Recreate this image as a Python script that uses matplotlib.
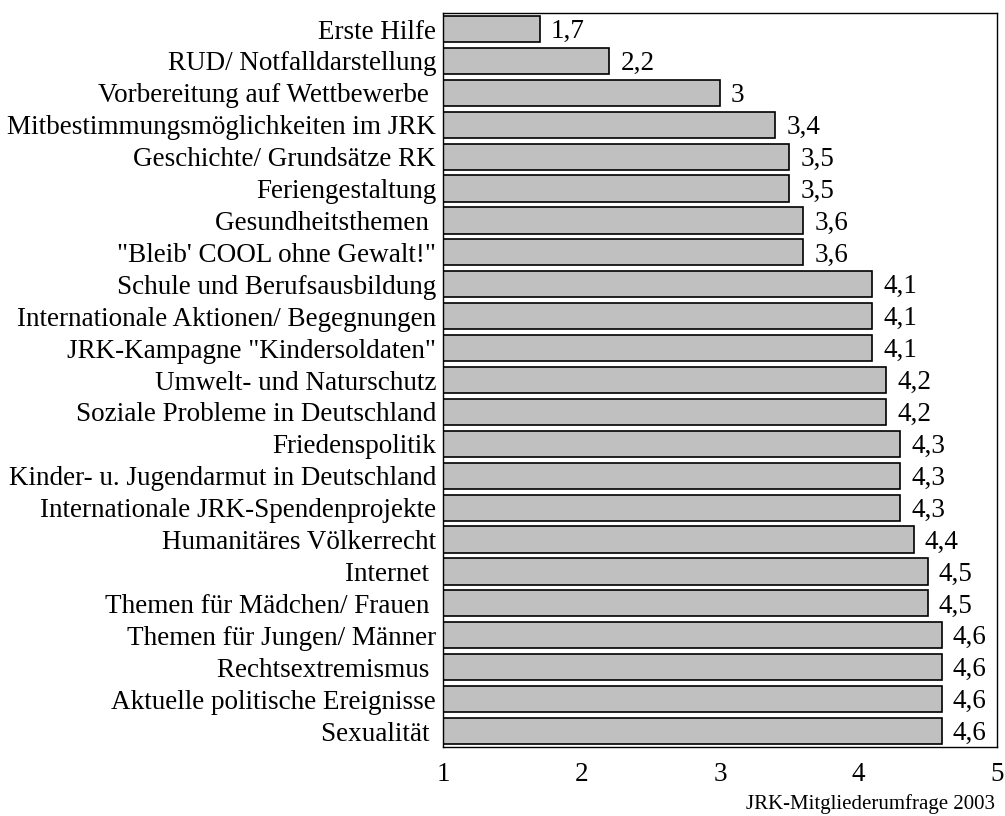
import matplotlib.pyplot as plt

plt.rcParams['font.family'] = ['Liberation Serif', 'DejaVu Serif']

themen = ["Erste Hilfe", "RUD/ Notfalldarstellung", "Vorbereitung auf Wettbewerbe ",
          "Mitbestimmungsmöglichkeiten im JRK", "Geschichte/ Grundsätze RK",
          "Feriengestaltung", "Gesundheitsthemen ", "\"Bleib' COOL ohne Gewalt!\"",
          "Schule und Berufsausbildung", "Internationale Aktionen/ Begegnungen",
          "JRK-Kampagne \"Kindersoldaten\"", "Umwelt- und Naturschutz",
          "Soziale Probleme in Deutschland", "Friedenspolitik",
          "Kinder- u. Jugendarmut in Deutschland", "Internationale JRK-Spendenprojekte",
          "Humanitäres Völkerrecht", "Internet ", "Themen für Mädchen/ Frauen ",
          "Themen für Jungen/ Männer", "Rechtsextremismus ",
          "Aktuelle politische Ereignisse", "Sexualität "]
werte = [1.7, 2.2, 3, 3.4, 3.5, 3.5, 3.6, 3.6, 4.1, 4.1, 4.1, 4.2, 4.2,
         4.3, 4.3, 4.3, 4.4, 4.5, 4.5, 4.6, 4.6, 4.6, 4.6]

fig = plt.figure(figsize=(10.05, 8.16), dpi=100)
ax = fig.add_axes([0.4408, 0.0846, 0.5512, 0.8994])

pos = list(range(len(themen)))
laengen = [w - 1 for w in werte]
ax.barh(pos, laengen, left=1, height=0.82, color="#c0c0c0", edgecolor="black", linewidth=1.2)

for p, w in zip(pos, werte):
    txt = ("%g" % w).replace(".", ",")
    ax.text(w + 0.08, p + 0.08, txt, va="center", ha="left", fontsize=19.5)

ax.set_xlim(1, 5)
ax.set_ylim(len(themen) - 0.5, -0.5)
ax.set_yticks(pos)
ax.set_yticklabels(themen, fontsize=19.5)
ax.set_xticks([1, 2, 3, 4, 5])
ax.set_xticklabels(["1", "2", "3", "4", "5"], fontsize=19.5)
ax.tick_params(length=0, pad=5)
ax.tick_params(axis="x", pad=11)
for s in ax.spines.values():
    s.set_linewidth(1.0)

fig.text(0.99, 0.002, "JRK-Mitgliederumfrage 2003", ha="right", va="bottom", fontsize=15)

fig.savefig("out.png", dpi=100)
